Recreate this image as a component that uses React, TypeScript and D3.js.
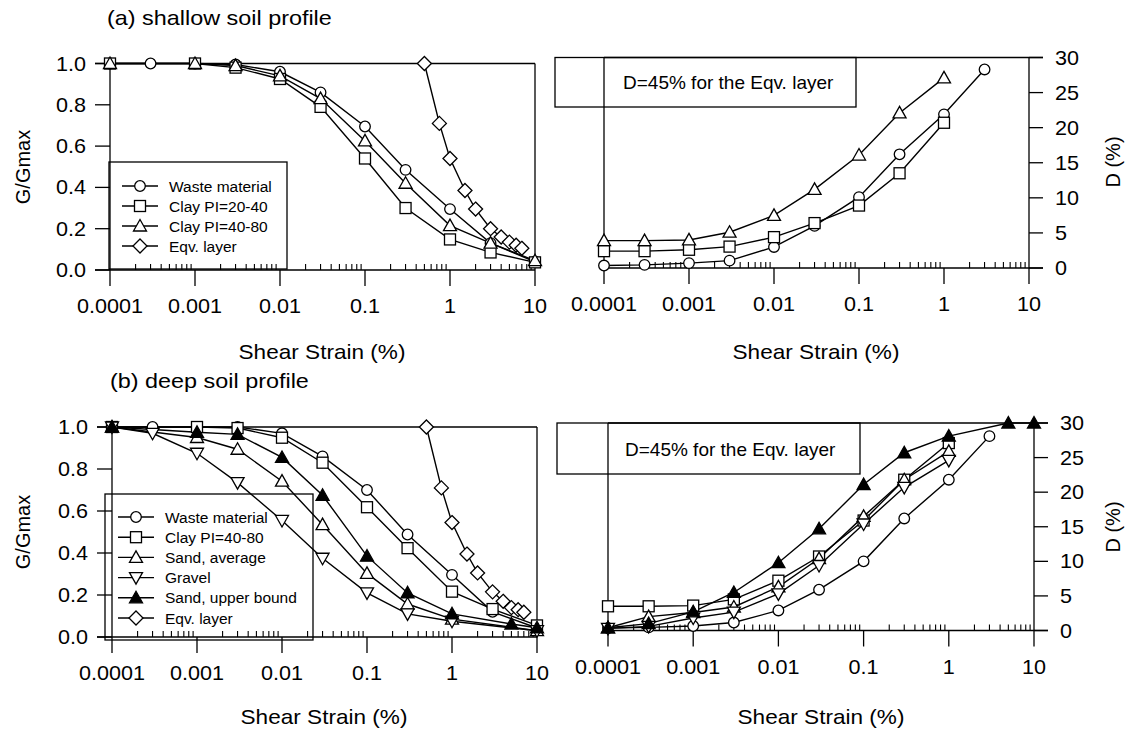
import React from "react";
import * as d3 from "d3";

// ---- axis ticks ----
const xMajor = [0.0001, 0.001, 0.01, 0.1, 1, 10];
const xMajorLabels = ["0.0001", "0.001", "0.01", "0.1", "1", "10"];
const gTicks = [0, 0.2, 0.4, 0.6, 0.8, 1.0];
const dTicks = [0, 5, 10, 15, 20, 25, 30];

// ---- (a) shallow soil profile : G/Gmax ----
const aWasteStrain = [0.0001, 0.0003, 0.001, 0.003, 0.01, 0.03, 0.1, 0.3, 1, 3, 10];
const aWasteG = [1.0, 1.0, 1.0, 0.995, 0.96, 0.86, 0.695, 0.485, 0.295, 0.13, 0.04];
const aClayStrain = [0.0001, 0.001, 0.003, 0.01, 0.03, 0.1, 0.3, 1, 3, 10];
const aClay2040G = [1.0, 1.0, 0.98, 0.925, 0.79, 0.54, 0.3, 0.148, 0.085, 0.037];
const aClay4080G = [1.0, 1.0, 0.99, 0.94, 0.83, 0.625, 0.42, 0.215, 0.13, 0.045];
const eqvStrain = [0.5, 0.75, 1, 1.5, 2, 3, 4, 5, 6, 7];
const aEqvG = [1.0, 0.71, 0.54, 0.385, 0.295, 0.2, 0.16, 0.135, 0.12, 0.105];

// ---- (a) shallow soil profile : D (%) ----
const aDStrain = [0.0001, 0.0003, 0.001, 0.003, 0.01, 0.03, 0.1, 0.3, 1];
const aWasteDStrain = [0.0001, 0.0003, 0.001, 0.003, 0.01, 0.03, 0.1, 0.3, 1, 3];
const aWasteD = [0.35, 0.45, 0.7, 1.05, 3.0, 6.0, 10.1, 16.2, 21.9, 28.3];
const aClay2040D = [2.4, 2.4, 2.6, 3.05, 4.4, 6.4, 8.9, 13.5, 20.7];
const aClay4080D = [3.9, 3.9, 4.0, 5.1, 7.5, 11.2, 16.1, 22.1, 27.1];

// ---- (b) deep soil profile : G/Gmax ----
const bWasteG = [1.0, 1.0, 1.0, 1.0, 0.97, 0.86, 0.7, 0.488, 0.296, 0.12, 0.043];
const bClayStrain = [0.0001, 0.001, 0.003, 0.01, 0.03, 0.1, 0.3, 1, 3, 10];
const bClayG = [1.0, 1.0, 0.995, 0.949, 0.83, 0.618, 0.423, 0.216, 0.133, 0.055];
const bSandAvgStrain = [0.0001, 0.001, 0.003, 0.01, 0.03, 0.1, 0.3, 1, 10];
const bSandAvgG = [1.0, 0.95, 0.894, 0.742, 0.535, 0.303, 0.157, 0.085, 0.03];
const bGravelStrain = [0.0001, 0.0003, 0.001, 0.003, 0.01, 0.03, 0.1, 0.3, 1, 10];
const bGravelG = [1.0, 0.97, 0.875, 0.735, 0.555, 0.375, 0.21, 0.11, 0.075, 0.03];
const bSandUpStrain = [0.0001, 0.001, 0.003, 0.01, 0.03, 0.1, 0.3, 1, 5, 10];
const bSandUpG = [1.0, 0.975, 0.965, 0.855, 0.675, 0.385, 0.21, 0.11, 0.062, 0.044];
const bEqvG = [1.0, 0.71, 0.545, 0.395, 0.305, 0.215, 0.17, 0.14, 0.13, 0.118];

// ---- (b) deep soil profile : D (%) ----
const bWasteD = [0.35, 0.45, 0.65, 1.15, 2.9, 5.9, 10.0, 16.2, 21.8, 28.1];
const bClayD = [3.5, 3.5, 3.6, 4.5, 7.2, 10.7, 15.9, 21.8, 27.1];
const bSandAvgD = [0.4, 2.0, 2.6, 3.4, 6.3, 10.4, 16.5, 21.8, 25.9];
const bGravelD = [0.3, 0.6, 1.8, 2.65, 5.3, 9.4, 15.4, 20.7, 24.6];
const bSandUpDStrain = [0.0001, 0.0003, 0.001, 0.003, 0.01, 0.03, 0.1, 0.3, 1, 5, 10];
const bSandUpD = [0.4, 1.0, 2.7, 5.5, 9.8, 14.7, 21.1, 25.7, 28.1, 30, 30];

const legendA = ["Waste material", "Clay PI=20-40", "Clay PI=40-80", "Eqv. layer"];
const legendB = ["Waste material", "Clay PI=40-80", "Sand, average", "Gravel", "Sand, upper bound", "Eqv. layer"];

const FONT = "'Liberation Sans', Arial, Helvetica, sans-serif";

type Mk = "circle" | "square" | "tri" | "triDown" | "triFill" | "diamond";
type Series = { strain: number[]; vals: number[]; mk: Mk };

function Marker({ mk, x, y }: { mk: Mk; x: number; y: number }) {
  const st = { stroke: "#000", strokeWidth: 1.3, fill: mk === "triFill" ? "#000" : "#fff" };
  if (mk === "circle") return <circle cx={x} cy={y} r={5.3} {...st} />;
  if (mk === "square") return <rect x={x - 5.5} y={y - 5.5} width={11} height={11} {...st} />;
  if (mk === "diamond")
    return <polygon points={`${x},${y - 7} ${x + 7},${y} ${x},${y + 7} ${x - 7},${y}`} {...st} />;
  if (mk === "triDown")
    return <polygon points={`${x},${y + 6.5} ${x + 6.5},${y - 5} ${x - 6.5},${y - 5}`} {...st} />;
  return <polygon points={`${x},${y - 6.5} ${x + 6.5},${y + 5} ${x - 6.5},${y + 5}`} {...st} />;
}

function T({ x, y, size, anchor = "start", sx = 1, rotate = 0, children }: any) {
  return (
    <text
      transform={`translate(${x},${y}) rotate(${rotate}) scale(${sx},1)`}
      fontSize={size}
      fontFamily={FONT}
      textAnchor={anchor}
      fill="#000"
    >
      {children}
    </text>
  );
}

type PanelProps = {
  kind: "G" | "D";
  x0: number;
  x1: number;
  yTop: number;
  yBot: number;
  series: Series[];
};

function Panel({ kind, x0, x1, yTop, yBot, series }: PanelProps) {
  const x = d3.scaleLog().domain([1e-4, 10]).range([x0, x1]);
  const y = d3.scaleLinear().domain(kind === "G" ? [0, 1] : [0, 30]).range([yBot, yTop]);
  const line = d3.line<[number, number]>().x((d) => x(d[0])).y((d) => y(d[1]));
  const minor = x.ticks().filter((v) => Math.abs(Math.log10(v) - Math.round(Math.log10(v))) > 1e-6);
  const yTicks = kind === "G" ? gTicks : dTicks;
  const ax = { stroke: "#000", strokeWidth: 1.3 };
  const left = kind === "G" ? x0 - 15 : x0;
  const right = kind === "G" ? x1 : x1 + 14;

  return (
    <g>
      {/* frame */}
      <line x1={left} x2={right} y1={yBot} y2={yBot} {...ax} />
      <line x1={left} x2={right} y1={yTop} y2={yTop} {...ax} />
      <line x1={x0} x2={x0} y1={yTop} y2={yBot} {...ax} />
      <line x1={x1} x2={x1} y1={yTop} y2={yBot} {...ax} />
      {/* x ticks */}
      {xMajor.map((v, i) => (
        <g key={"M" + i}>
          <line x1={x(v)} x2={x(v)} y1={yBot} y2={yBot + 16} {...ax} />
          <T x={x(v)} y={yBot + 43} size={20} anchor="middle" sx={1.08}>
            {xMajorLabels[i]}
          </T>
        </g>
      ))}
      {minor.map((v, i) => (
        <line key={"m" + i} x1={x(v)} x2={x(v)} y1={yBot} y2={yBot - 6} {...ax} strokeWidth={1.1} />
      ))}
      {/* y ticks */}
      {yTicks.map((v, i) =>
        kind === "G" ? (
          <g key={"y" + i}>
            <line x1={x0 - 15} x2={x0} y1={y(v)} y2={y(v)} {...ax} />
            <T x={x0 - 24} y={y(v) + 7} size={20} anchor="end" sx={1.08}>
              {d3.format(".1f")(v)}
            </T>
          </g>
        ) : (
          <g key={"y" + i}>
            <line x1={x1} x2={x1 + 14} y1={y(v)} y2={y(v)} {...ax} />
            <T x={x1 + 26} y={y(v) + 7} size={20} anchor="start" sx={1.08}>
              {String(v)}
            </T>
          </g>
        )
      )}
      {/* data */}
      {series.map((s, i) => (
        <path
          key={"l" + i}
          d={line(s.strain.map((v, j) => [v, s.vals[j]] as [number, number])) || ""}
          fill="none"
          stroke="#000"
          strokeWidth={1.4}
        />
      ))}
      {series.map((s, i) =>
        s.strain.map((v, j) => <Marker key={`p${i}-${j}`} mk={s.mk} x={x(v)} y={y(s.vals[j])} />)
      )}
    </g>
  );
}

function Legend({ x, y, w, h, rows, mks, top, step }: any) {
  return (
    <g>
      <rect x={x} y={y} width={w} height={h} fill="none" stroke="#000" strokeWidth={1.3} />
      {rows.map((r: string, i: number) => {
        const cy = top + i * step;
        return (
          <g key={i}>
            <line x1={x + 13} x2={x + 49} y1={cy} y2={cy} stroke="#000" strokeWidth={1.4} />
            <Marker mk={mks[i]} x={x + 31} y={cy} />
            <T x={x + 60} y={cy + 5.5} size={15.5}>
              {r}
            </T>
          </g>
        );
      })}
    </g>
  );
}

function NoteBox({ x, y, w, h }: any) {
  return (
    <g>
      <rect x={x} y={y} width={w} height={h} fill="none" stroke="#000" strokeWidth={1.3} />
      <T x={x + 68} y={y + h / 2 + 7} size={19}>
        D=45% for the Eqv. layer
      </T>
    </g>
  );
}

export default function App() {
  const aG: Series[] = [
    { strain: aWasteStrain, vals: aWasteG, mk: "circle" },
    { strain: aClayStrain, vals: aClay2040G, mk: "square" },
    { strain: aClayStrain, vals: aClay4080G, mk: "tri" },
    { strain: eqvStrain, vals: aEqvG, mk: "diamond" },
  ];
  const aD: Series[] = [
    { strain: aWasteDStrain, vals: aWasteD, mk: "circle" },
    { strain: aDStrain, vals: aClay2040D, mk: "square" },
    { strain: aDStrain, vals: aClay4080D, mk: "tri" },
  ];
  const bG: Series[] = [
    { strain: aWasteStrain, vals: bWasteG, mk: "circle" },
    { strain: bClayStrain, vals: bClayG, mk: "square" },
    { strain: bSandAvgStrain, vals: bSandAvgG, mk: "tri" },
    { strain: bGravelStrain, vals: bGravelG, mk: "triDown" },
    { strain: bSandUpStrain, vals: bSandUpG, mk: "triFill" },
    { strain: eqvStrain, vals: bEqvG, mk: "diamond" },
  ];
  const bD: Series[] = [
    { strain: aWasteDStrain, vals: bWasteD, mk: "circle" },
    { strain: aDStrain, vals: bClayD, mk: "square" },
    { strain: aDStrain, vals: bSandAvgD, mk: "tri" },
    { strain: aDStrain, vals: bGravelD, mk: "triDown" },
    { strain: bSandUpDStrain, vals: bSandUpD, mk: "triFill" },
  ];

  return (
    <svg
      width={1128}
      height={729}
      style={{ position: "absolute", left: 0, top: 0, display: "block", background: "#fff" }}
    >
      <rect width={1128} height={729} fill="#fff" />
      <T x={107} y={25} size={20} sx={1.17}>(a) shallow soil profile</T>
      <T x={110} y={388} size={20} sx={1.17}>(b) deep soil profile</T>

      {/* (a) */}
      <Legend x={109} y={162} w={178} h={107} rows={legendA} mks={["circle", "square", "tri", "diamond"]} top={186} step={20} />
      <Panel kind="G" x0={110} x1={535} yTop={63.5} yBot={270} series={aG} />
      <NoteBox x={555} y={57.5} w={301} h={49.5} />
      <Panel kind="D" x0={604} x1={1029} yTop={57.5} yBot={268} series={aD} />
      <T x={322} y={359} size={20} anchor="middle" sx={1.13}>Shear Strain (%)</T>
      <T x={816} y={359} size={20} anchor="middle" sx={1.13}>Shear Strain (%)</T>
      <T x={30} y={167} size={20} anchor="middle" rotate={-90}>G/Gmax</T>
      <T x={1120} y={162} size={20} anchor="middle" rotate={-90}>D (%)</T>

      {/* (b) */}
      <Legend x={105} y={494} w={208} h={146} rows={legendB} mks={["circle", "square", "tri", "triDown", "triFill", "diamond"]} top={517} step={20.2} />
      <Panel kind="G" x0={112} x1={537} yTop={427} yBot={637} series={bG} />
      <NoteBox x={557} y={423} w={303} h={51} />
      <Panel kind="D" x0={608} x1={1034} yTop={423} yBot={630.5} series={bD} />
      <T x={324} y={724} size={20} anchor="middle" sx={1.13}>Shear Strain (%)</T>
      <T x={821} y={724} size={20} anchor="middle" sx={1.13}>Shear Strain (%)</T>
      <T x={30} y={532} size={20} anchor="middle" rotate={-90}>G/Gmax</T>
      <T x={1120} y={527} size={20} anchor="middle" rotate={-90}>D (%)</T>
    </svg>
  );
}
